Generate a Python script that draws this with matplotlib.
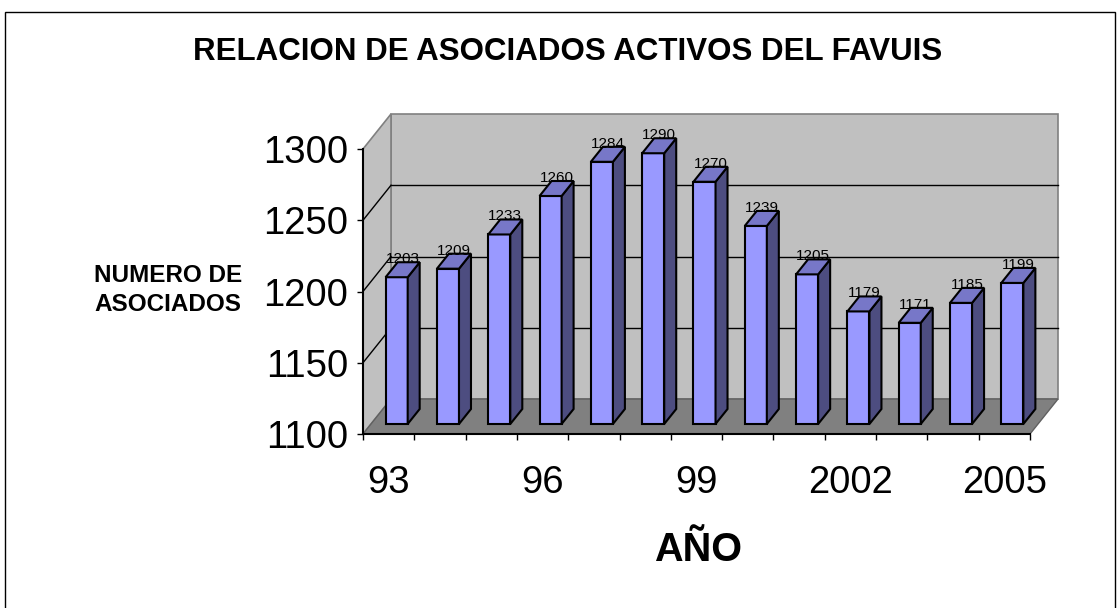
import matplotlib
matplotlib.use('Agg')
import matplotlib.pyplot as plt
from matplotlib.patches import Polygon, Rectangle

years = ['93', '94', '95', '96', '97', '98', '99', '2000', '2001', '2002', '2003', '2004', '2005']
asociados = [1203, 1209, 1233, 1260, 1284, 1290, 1270, 1239, 1205, 1179, 1171, 1185, 1199]
shown_years = ['93', '96', '99', '2002', '2005']
y_ticks = [1100, 1150, 1200, 1250, 1300]

plt.rcParams['font.family'] = ['Liberation Sans', 'DejaVu Sans']

W, H = 1117, 608
fig = plt.figure(figsize=(W / 100, H / 100), dpi=100)
# front plane of the 3d box
ax = fig.add_axes([363 / W, 1 - 434 / H, 667 / W, 285 / H])
ymin, ymax = y_ticks[0], y_ticks[-1]
n = len(years)
ax.set_xlim(0, n)
ax.set_ylim(ymin, ymax)
ax.patch.set_visible(False)

# depth of the box in data units (28px right, 35px up)
dx = 28 / (667 / n)
dy = 35 / (285 / (ymax - ymin))

# walls and floor
back = Polygon([(dx, ymin + dy), (n + dx, ymin + dy), (n + dx, ymax + dy), (dx, ymax + dy)],
               closed=True, fc='#C0C0C0', ec='#808080', lw=1.2, clip_on=False, zorder=0)
side = Polygon([(0, ymin), (0, ymax), (dx, ymax + dy), (dx, ymin + dy)],
               closed=True, fc='#C0C0C0', ec='#808080', lw=1.2, clip_on=False, zorder=0)
floor = Polygon([(0, ymin), (n, ymin), (n + dx, ymin + dy), (dx, ymin + dy)],
                closed=True, fc='#808080', ec='#606060', lw=1, clip_on=False, zorder=0.5)
ax.add_patch(back)
ax.add_patch(side)
ax.add_patch(floor)

for v in y_ticks[1:-1]:
    ax.plot([dx, n + dx], [v + dy, v + dy], color='black', lw=1, clip_on=False, zorder=1)
    ax.plot([0, dx], [v, v + dy], color='black', lw=1, clip_on=False, zorder=1)

# bars: front face with ax.bar, side and top as polygons
bw = 0.43
f1, f2 = 0.286, 0.714
bdx = (f2 - f1) * dx
bdy = (f2 - f1) * dy
xs = [i + 0.5 + f1 * dx for i in range(n)]
base = ymin + f1 * dy
ax.bar(xs, [v - ymin for v in asociados], width=bw, bottom=base, color='#9999FF',
       edgecolor='black', lw=1.5, clip_on=False, zorder=3)

for x, v in zip(xs, asociados):
    xl, xr = x - bw / 2, x + bw / 2
    top = v + f1 * dy
    ax.add_patch(Polygon([(xr, base), (xr, top), (xr + bdx, top + bdy), (xr + bdx, base + bdy)],
                         closed=True, fc='#4D4D80', ec='black', lw=1.5, clip_on=False, zorder=3))
    ax.add_patch(Polygon([(xl, top), (xr, top), (xr + bdx, top + bdy), (xl + bdx, top + bdy)],
                         closed=True, fc='#7777C8', ec='black', lw=1.5, clip_on=False, zorder=3))
    ax.annotate(str(v), (x + bdx / 2, top), xytext=(0, 8), textcoords='offset points',
                ha='center', va='bottom', fontsize=11, zorder=4)

# axes
for s in ['top', 'right']:
    ax.spines[s].set_visible(False)
for s in ['left', 'bottom']:
    ax.spines[s].set_color('black')
    ax.spines[s].set_linewidth(1.5)
    ax.spines[s].set_zorder(2)

ax.set_yticks(y_ticks)
ax.tick_params(axis='y', length=4.3, width=1, pad=6.5, labelsize=27.5, direction='out')
ax.set_xticks([years.index(y) + 0.5 for y in shown_years], shown_years)
ax.set_xticks(range(n + 1), minor=True)
ax.tick_params(axis='x', which='major', length=0, pad=22, labelsize=27.5)
ax.tick_params(axis='x', which='minor', length=4.3, width=1, direction='out')

fig.text(568 / W, 1 - 52 / H, 'RELACION DE ASOCIADOS ACTIVOS DEL FAVUIS', ha='center', va='center',
         fontsize=22.5, fontweight='bold')
fig.text(168 / W, 1 - 290 / H, 'NUMERO DE\nASOCIADOS', ha='center', va='center',
         multialignment='center', fontsize=17.5, fontweight='bold', linespacing=1.35)
fig.text(698 / W, 1 - 550 / H, 'AÑO', ha='center', va='center', fontsize=28.5, fontweight='bold')

# chart border
fig.add_artist(Rectangle((4.5 / W, -0.05), 1110 / W, (H - 12) / H + 0.05, transform=fig.transFigure,
                         fill=False, ec='black', lw=1))

fig.savefig('out.png', dpi=100)
